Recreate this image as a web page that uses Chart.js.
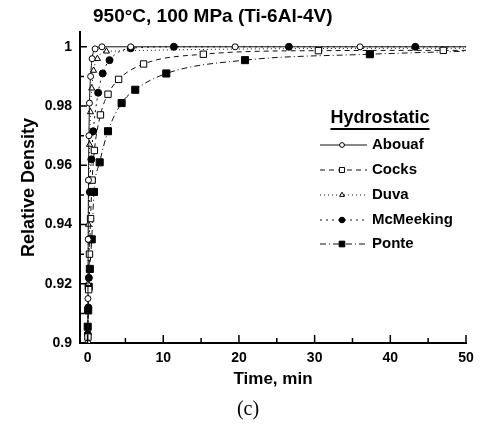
<!DOCTYPE html>
<html>
<head>
<meta charset="utf-8">
<script src="https://cdn.jsdelivr.net/npm/chart.js@4/dist/chart.umd.min.js"></script>
<style>
  html, body { margin: 0; padding: 0; background: #fff; }
  #wrap { width: 490px; height: 428px; }
</style>
</head>
<body>
<div id="wrap"><canvas id="chart" width="490" height="428"></canvas></div>
<script>
// values (time in min, relative density)
const abouafT = [0.02, 0.05, 0.08, 0.12, 0.18, 0.25, 0.4, 0.6, 1.0, 1.9, 5.7, 19.5, 36, 50];
const abouafY = [0.900, 0.915, 0.935, 0.955, 0.970, 0.981, 0.990, 0.996, 0.9993, 1.0, 1.0, 1.0, 1.0, 1.0];

const cocksT = [0.05, 0.15, 0.25, 0.4, 0.6, 0.9, 1.7, 2.7, 4.1, 7.4, 15.3, 30.5, 47, 50];
const cocksY = [0.902, 0.918, 0.930, 0.942, 0.955, 0.965, 0.977, 0.984, 0.989, 0.9942, 0.9975, 0.9987, 0.9988, 0.9988];

const duvaT = [0.03, 0.07, 0.12, 0.18, 0.26, 0.38, 0.55, 0.8, 1.3, 2.5, 50];
const duvaY = [0.902, 0.920, 0.940, 0.955, 0.967, 0.978, 0.986, 0.992, 0.996, 0.9985, 0.9995];

const mcmeekingT = [0.03, 0.1, 0.17, 0.22, 0.3, 0.5, 0.75, 1.4, 2.0, 2.9, 5.7, 11.4, 26.6, 43.3, 50];
const mcmeekingY = [0.903, 0.912, 0.922, 0.935, 0.951, 0.962, 0.9715, 0.9845, 0.991, 0.9955, 0.9995, 1.0, 1.0, 1.0, 1.0];

const ponteT = [0.02, 0.08, 0.15, 0.3, 0.55, 0.85, 1.6, 2.7, 4.5, 6.3, 10.4, 20.8, 37.3, 50];
const ponteY = [0.9055, 0.911, 0.919, 0.925, 0.935, 0.951, 0.961, 0.9715, 0.981, 0.9855, 0.991, 0.9955, 0.9975, 0.9985];

const xTicks = [0, 10, 20, 30, 40, 50];
const xMinorTicks = [5, 15, 25, 35, 45];
const yTicks = [0.9, 0.92, 0.94, 0.96, 0.98, 1];
const yMinorTicks = [0.91, 0.93, 0.95, 0.97, 0.99];

const seriesNames = ['Abouaf', 'Cocks', 'Duva', 'McMeeking', 'Ponte'];

const FONT = "'Liberation Sans', Arial, sans-serif";

// turn two arrays into {x, y} points
const pts = (t, y) => t.map((v, i) => ({ x: v, y: y[i] }));
// last point only extends the line to the right edge, no marker
const radii = (n, r) => Array.from({ length: n }, (_, i) => (i === n - 1 ? 0 : r));

const styles = [
  { dash: [], pointStyle: 'circle', radius: 3, fill: '#fff' },
  { dash: [5, 4], pointStyle: 'rect', radius: 4.5, fill: '#fff' },
  { dash: [1, 3], pointStyle: 'triangle', radius: 3.5, fill: '#fff' },
  { dash: [2, 4], pointStyle: 'circle', radius: 3.5, fill: '#000' },
  { dash: [6, 3, 1, 3], pointStyle: 'rect', radius: 5, fill: '#000' },
];

const series = [
  [abouafT, abouafY],
  [cocksT, cocksY],
  [duvaT, duvaY],
  [mcmeekingT, mcmeekingY],
  [ponteT, ponteY],
];

const datasets = series.map(([t, y], i) => ({
  label: seriesNames[i],
  data: pts(t, y),
  borderColor: '#111',
  borderWidth: 1,
  borderDash: styles[i].dash,
  pointStyle: styles[i].pointStyle,
  pointRadius: radii(t.length, styles[i].radius),
  pointBackgroundColor: styles[i].fill,
  pointBorderColor: '#000',
  pointBorderWidth: 1,
  cubicInterpolationMode: 'monotone',
  fill: false,
}));

// inward tick marks, title, legend and panel label
const decorations = {
  id: 'decorations',
  afterDraw(chart) {
    const { ctx, chartArea, scales } = chart;
    const xs = scales.x, ys = scales.y;
    ctx.save();
    ctx.strokeStyle = '#000';
    ctx.lineWidth = 1.5;
    ctx.beginPath();
    yTicks.forEach(v => {
      const py = ys.getPixelForValue(v);
      ctx.moveTo(chartArea.left, py); ctx.lineTo(chartArea.left + 7, py);
    });
    yMinorTicks.forEach(v => {
      const py = ys.getPixelForValue(v);
      ctx.moveTo(chartArea.left, py); ctx.lineTo(chartArea.left + 4, py);
    });
    xTicks.forEach(v => {
      const px = xs.getPixelForValue(v);
      ctx.moveTo(px, chartArea.bottom); ctx.lineTo(px, chartArea.bottom - 8);
    });
    xMinorTicks.forEach(v => {
      const px = xs.getPixelForValue(v);
      ctx.moveTo(px, chartArea.bottom); ctx.lineTo(px, chartArea.bottom - 5);
    });
    ctx.stroke();

    // title
    ctx.fillStyle = '#000';
    ctx.font = 'bold 19px ' + FONT;
    ctx.textAlign = 'left';
    ctx.textBaseline = 'middle';
    ctx.fillText('950°C, 100 MPa (Ti-6Al-4V)', 93, 17);

    // legend
    ctx.font = 'bold 18px ' + FONT;
    ctx.textAlign = 'center';
    ctx.fillText('Hydrostatic', 380, 118);
    const hw = ctx.measureText('Hydrostatic').width;
    ctx.lineWidth = 2;
    ctx.beginPath();
    ctx.moveTo(380 - hw / 2, 129); ctx.lineTo(380 + hw / 2, 129);
    ctx.stroke();

    ctx.font = 'bold 15px ' + FONT;
    ctx.textAlign = 'left';
    const rowY = [145, 170, 195, 220, 244];
    datasets.forEach((ds, i) => {
      const y = rowY[i];
      ctx.strokeStyle = '#111';
      ctx.lineWidth = 1;
      ctx.setLineDash(styles[i].dash);
      ctx.beginPath();
      ctx.moveTo(320, y); ctx.lineTo(367, y);
      ctx.stroke();
      ctx.setLineDash([]);
      ctx.fillStyle = styles[i].fill;
      ctx.strokeStyle = '#000';
      Chart.helpers.drawPoint(ctx, {
        pointStyle: styles[i].pointStyle,
        radius: styles[i].radius * 0.8,
        borderWidth: 1,
        rotation: 0,
      }, 342, y);
      ctx.fillStyle = '#000';
      ctx.fillText(ds.label, 372, y);
    });

    // panel label
    ctx.font = "20px 'Liberation Serif', 'Times New Roman', serif";
    ctx.textAlign = 'center';
    ctx.fillText('(c)', 248, 410);
    ctx.restore();
  },
};

new Chart(document.getElementById('chart'), {
  type: 'line',
  data: { datasets },
  options: {
    responsive: false,
    animation: false,
    events: [],
    layout: { padding: { left: 0, top: 32, right: 24, bottom: 0 } },
    plugins: {
      legend: { display: false },
      tooltip: { enabled: false },
      title: { display: false },
    },
    scales: {
      x: {
        type: 'linear',
        min: -1,
        max: 50,
        afterBuildTicks: (scale) => { scale.ticks = xTicks.map(v => ({ value: v })); },
        afterFit: (scale) => { scale.height = 85; },
        grid: { display: false, drawTicks: false },
        border: { display: true, color: '#000', width: 2 },
        ticks: {
          color: '#000',
          padding: 7,
          maxRotation: 0,
          font: { family: FONT, size: 14, weight: 'bold' },
        },
        title: {
          display: true,
          text: 'Time, min',
          color: '#000',
          padding: { top: 0, bottom: 38 },
          font: { family: FONT, size: 17, weight: 'bold' },
        },
      },
      y: {
        type: 'linear',
        min: 0.9,
        max: 1.005,
        afterBuildTicks: (scale) => { scale.ticks = yTicks.map(v => ({ value: v })); },
        afterFit: (scale) => { scale.width = 80; },
        grid: { display: false, drawTicks: false },
        border: { display: true, color: '#000', width: 2 },
        ticks: {
          color: '#000',
          padding: 8,
          callback: (v) => String(+v.toFixed(2)),
          font: { family: FONT, size: 14, weight: 'bold' },
        },
        title: {
          display: true,
          text: 'Relative Density',
          color: '#000',
          padding: { top: 18, bottom: 0 },
          font: { family: FONT, size: 18, weight: 'bold' },
        },
      },
    },
  },
  plugins: [decorations],
});
</script>
</body>
</html>
